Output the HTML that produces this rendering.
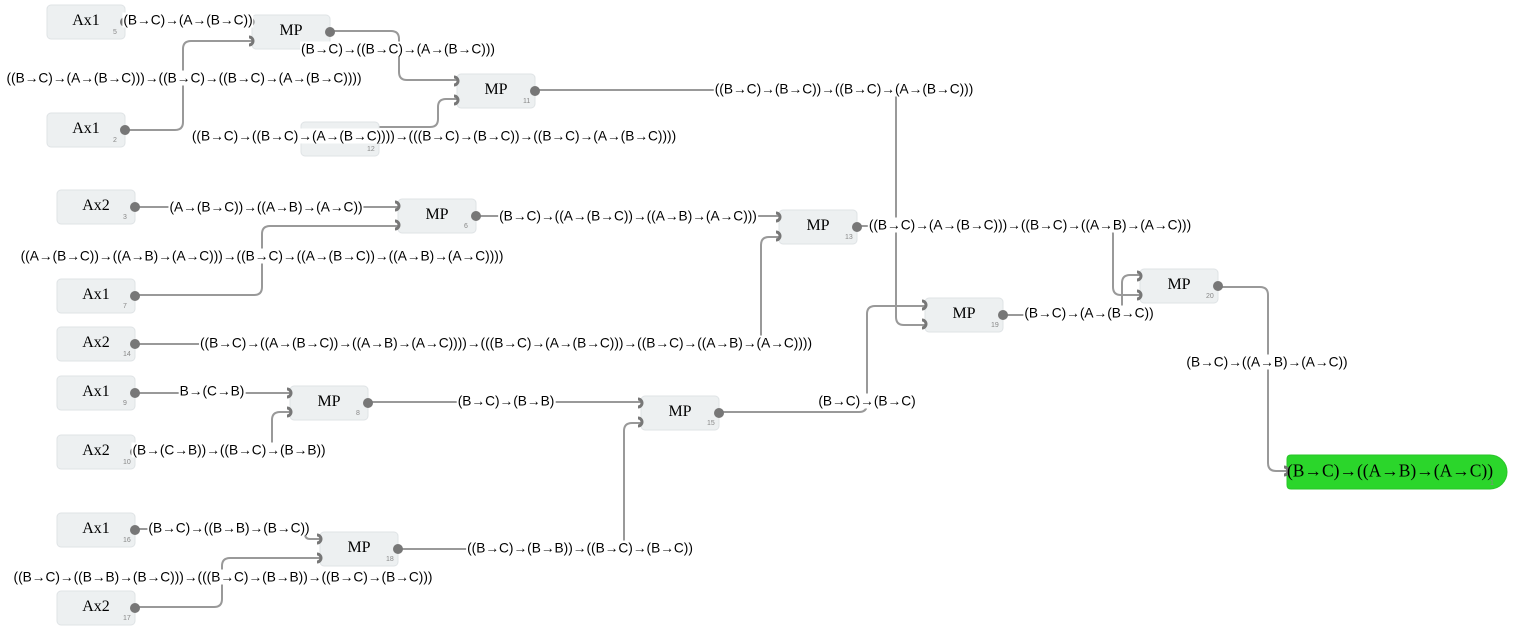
<!DOCTYPE html>
<html><head><meta charset="utf-8"><style>
body{margin:0;width:1513px;height:632px;background:#fff;position:relative;overflow:hidden;font-family:"Liberation Sans",sans-serif}
svg{position:absolute;left:0;top:0}
.l{position:absolute;font-size:13.7px;line-height:15px;background:#fff;white-space:nowrap;transform:translate(-50%,-50%);color:#000;padding:0 1px}
.n{position:absolute;font-family:"Liberation Serif",serif;font-size:16px;transform:translate(-50%,-50%);white-space:nowrap}
.id{position:absolute;font-size:7px;color:#888}
</style></head><body>
<svg id="s" width="1513" height="632"></svg>
<div id="t"></div>
<script>
const s=document.getElementById('s'),T=document.getElementById('t');
let h='';
const nodes=[
['Ax1',47,5,'5',0,0],['MP',252,15,'',1,1],['Ax1',47,113,'2',0,0],['MP',457,74,'11',1,1],['',301,122,'12',0,0],
['Ax2',57,190,'3',0,0],['MP',398,199,'6',1,1],['Ax1',57,279,'7',0,0],['Ax2',57,327,'14',0,0],['MP',779,210,'13',1,1],
['Ax1',57,376,'9',0,0],['MP',290,386,'8',1,1],['Ax2',57,435,'10',0,0],['MP',641,396,'15',1,1],
['Ax1',57,513,'16',0,0],['MP',320,532,'18',1,1],['Ax2',57,591,'17',0,0],['MP',925,298,'19',1,1],['MP',1140,269,'20',1,1]];
function E(x1,y1,xm,x2,y2){const r=8;if(Math.abs(y2-y1)<2)return `M${x1} ${y1}H${x2}`;const d=y2>y1?1:-1;const rr=Math.min(r,Math.abs(y2-y1)/2);
return `M${x1} ${y1}H${xm-rr}Q${xm} ${y1} ${xm} ${y1+d*rr}V${y2-d*rr}Q${xm} ${y2} ${xm+rr} ${y2}H${x2}`;}
const edges=[[125,22,190,252,22],[125,130,183,252,41],[330,31,399,457,80],[379,127,438,457,99],[535,90,896,925,325],
[135,207,300,398,207],[135,295,262,398,226],[476,216,600,779,217],[135,344,761,779,237],[857,226,1113,1140,295],
[1003,315,1122,1140,275],[1218,287,1268,1287,471],[135,393,200,290,393],[135,452,272,290,412],[368,402,500,641,403],
[398,549,624,641,423],[719,412,867,925,306],[135,529,305,320,539],[135,607,222,320,558]];
edges.forEach(e=>h+=`<path d="${E(...e)}" fill="none" stroke="#999" stroke-width="2"/>`);
nodes.forEach(n=>{const[l,x,y,id]=n;h+=`<rect x="${x}" y="${y}" width="78" height="34" rx="4" fill="#edf0f1" stroke="#dfe3e5"/>`;
if(n[4]){h+=`<path d="M${x-3} ${y+3}a4 4 0 0 1 0 8" fill="none" stroke="#777" stroke-width="3"/><path d="M${x-3} ${y+22}a4 4 0 0 1 0 8" fill="none" stroke="#777" stroke-width="3"/>`;}
h+=`<circle cx="${x+78}" cy="${y+17}" r="5" fill="#777"/>`;
T.innerHTML+=`<div class="n" style="left:${x+39}px;top:${y+16}px">${l}</div><div class="id" style="left:${x+66}px;top:${y+24}px">${id}</div>`;});
h+=`<path d="M1291 455H1490A17 17 0 0 1 1490 489H1291Q1287 489 1287 485V459Q1287 455 1291 455Z" fill="#2bd62b" stroke="#2ac42a"/><path d="M1284 467a4 4 0 0 1 0 8" fill="none" stroke="#777" stroke-width="3"/>`;
T.innerHTML+=`<div class="n" style="left:1390px;top:471px;font-size:17.5px">(B→C)→((A→B)→(A→C))</div><div class="id" style="left:1490px;top:480px">1</div>`;
s.innerHTML=h;
const L=[[188,20,'(B→C)→(A→(B→C))'],[184,78,'((B→C)→(A→(B→C)))→((B→C)→((B→C)→(A→(B→C))))'],[398,49,'(B→C)→((B→C)→(A→(B→C)))'],
[434,136,'((B→C)→((B→C)→(A→(B→C))))→(((B→C)→(B→C))→((B→C)→(A→(B→C))))'],[844,89,'((B→C)→(B→C))→((B→C)→(A→(B→C)))'],
[266,207,'(A→(B→C))→((A→B)→(A→C))'],[262,256,'((A→(B→C))→((A→B)→(A→C)))→((B→C)→((A→(B→C))→((A→B)→(A→C))))'],
[628,216,'(B→C)→((A→(B→C))→((A→B)→(A→C)))'],[506,343,'((B→C)→((A→(B→C))→((A→B)→(A→C))))→(((B→C)→(A→(B→C)))→((B→C)→((A→B)→(A→C))))'],
[1030,225,'((B→C)→(A→(B→C)))→((B→C)→((A→B)→(A→C)))'],[1089,313,'(B→C)→(A→(B→C))'],[1267,362,'(B→C)→((A→B)→(A→C))'],
[212,391,'B→(C→B)'],[229,450,'(B→(C→B))→((B→C)→(B→B))'],[506,401,'(B→C)→(B→B)'],[580,548,'((B→C)→(B→B))→((B→C)→(B→C))'],
[867,401,'(B→C)→(B→C)'],[229,528,'(B→C)→((B→B)→(B→C))'],[223,577,'((B→C)→((B→B)→(B→C)))→(((B→C)→(B→B))→((B→C)→(B→C)))']];
L.forEach(([x,y,t])=>T.innerHTML+=`<div class="l" style="left:${x}px;top:${y}px">${t}</div>`);
</script>
</body></html>
